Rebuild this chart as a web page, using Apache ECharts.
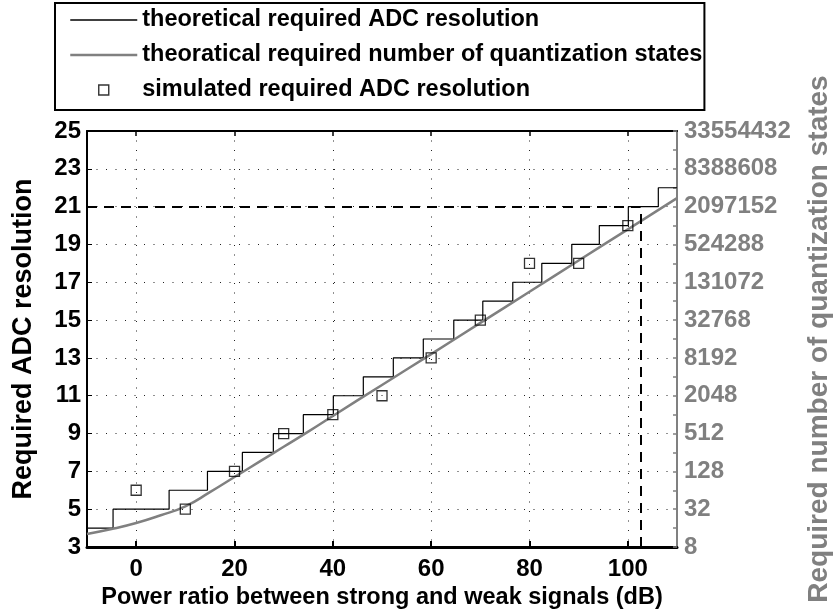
<!DOCTYPE html>
<html>
<head>
<meta charset="utf-8">
<script src="https://cdn.jsdelivr.net/npm/echarts@6/dist/echarts.min.js"></script>
<style>
html,body{margin:0;padding:0;background:#fff;}
#chart{width:836px;height:611px;}
</style>
</head>
<body>
<div id="chart"></div>
<script>
// ---- data ----
const xMin = -10, xMax = 110;
const xTickValues = [0, 20, 40, 60, 80, 100];
const yMin = 3, yMax = 25;
const yTickValues = [3, 5, 7, 9, 11, 13, 15, 17, 19, 21, 23, 25];
const rightMinorTicks = [3, 4, 5, 6, 7, 8, 9, 10, 11, 12, 13, 14, 15, 16, 17, 18, 19, 20, 21, 22, 23, 24, 25];
const rightTickLabels = ['8', '32', '128', '512', '2048', '8192', '32768', '131072', '524288', '2097152', '8388608', '33554432'];

// theoretical required ADC resolution (step function)
const stepX = [-10, -4.7, 6.7, 14.5, 21.6, 27.9, 34.0, 40.1, 46.2, 52.3, 58.4, 64.6, 70.5, 76.6, 82.5, 88.6, 94.2, 100.1, 106.2, 110];
const stepBits = [4, 5, 6, 7, 8, 9, 10, 11, 12, 13, 14, 15, 16, 17, 18, 19, 20, 21, 22, 22];

// theoretical required number of quantization states (log2 scale)
const curveX = [-10, -5, 0, 5, 10, 15, 20, 25, 30, 35, 40, 50, 60, 70, 80, 90, 100, 110];
const curveBits = [3.69, 3.95, 4.27, 4.68, 5.15, 5.9, 6.7, 7.5, 8.3, 9.1, 9.93, 11.57, 13.2, 14.85, 16.5, 18.15, 19.8, 21.45];

// simulated required ADC resolution
const simX = [0, 10, 20, 30, 40, 50, 60, 70, 80, 90, 100];
const simBits = [6, 5, 7, 9, 10, 11, 13, 15, 18, 18, 20];

// reference markers
const thresholdDb = 102.6;
const thresholdBits = 21;

const names = [
  'theoretical required ADC resolution',
  'theoratical required number of quantization states',
  'simulated required ADC resolution'
];

const FONT = 'Liberation Sans, Arial, Helvetica, sans-serif';
const GRAY = '#808080';

const chart = echarts.init(document.getElementById('chart'), null, {renderer: 'canvas'});

const zip = (xs, ys) => xs.map((x, i) => [x, ys[i]]);

const option = {
  backgroundColor: '#fff',
  animation: false,
  textStyle: {fontFamily: FONT},
  legend: {
    left: 55,
    top: 3,
    orient: 'vertical',
    backgroundColor: '#fff',
    borderColor: '#000',
    borderWidth: 2,
    borderRadius: 0,
    padding: [5, 2, 8, 14],
    itemWidth: 67,
    itemHeight: 10,
    itemGap: 11,
    textStyle: {fontFamily: FONT, fontSize: 23.5, fontWeight: 'bold', color: '#000', lineHeight: 24},
    data: [
      {name: names[0], itemStyle: {opacity: 0}, lineStyle: {color: '#000', width: 1.5}},
      {name: names[1], itemStyle: {opacity: 0}, lineStyle: {color: GRAY, width: 2.5}},
      {name: names[2], icon: 'path://M0,0 L10,0 L10,10 L0,10 Z',
       itemStyle: {color: 'rgba(0,0,0,0)', borderColor: '#000', borderWidth: 1.4}}
    ]
  },
  grid: {left: 87, right: 159, top: 131, bottom: 64, containLabel: false, outerBoundsMode: 'none'},
  xAxis: [
    {
      type: 'value', min: xMin, max: xMax, position: 'bottom',
      name: 'Power ratio between strong and weak signals (dB)',
      nameLocation: 'middle', nameGap: 38,
      nameTextStyle: {fontFamily: FONT, fontSize: 23.5, fontWeight: 'bold', color: '#000'},
      axisLine: {show: true, onZero: false, lineStyle: {color: '#000', width: 3}},
      axisTick: {show: true, inside: true, length: 6, customValues: xTickValues, lineStyle: {color: '#000', width: 2}},
      axisLabel: {customValues: xTickValues, margin: 10, fontFamily: FONT, fontSize: 24, fontWeight: 'bold', color: '#000'},
      splitLine: {show: true, lineStyle: {color: '#222', width: 1, type: [1, 8.5]}}
    },
    {
      type: 'value', min: xMin, max: xMax, position: 'top',
      axisLine: {show: true, onZero: false, lineStyle: {color: '#000', width: 2}},
      axisTick: {show: true, inside: true, length: 5, customValues: xTickValues, lineStyle: {color: '#000', width: 1.5}},
      axisLabel: {show: false},
      splitLine: {show: false}
    }
  ],
  yAxis: [
    {
      type: 'value', min: yMin, max: yMax, position: 'left',
      name: 'Required ADC resolution', nameLocation: 'middle', nameGap: 50, nameRotate: 90,
      nameTextStyle: {fontFamily: FONT, fontSize: 27, fontWeight: 'bold', color: '#000'},
      axisLine: {show: true, onZero: false, lineStyle: {color: '#000', width: 2}},
      axisTick: {show: true, inside: true, length: 5, customValues: yTickValues, lineStyle: {color: '#000', width: 1}},
      axisLabel: {customValues: yTickValues, margin: 6, fontFamily: FONT, fontSize: 24, fontWeight: 'bold', color: '#000'},
      splitLine: {show: true, lineStyle: {color: '#222', width: 1, type: [1, 8.5]}}
    },
    {
      type: 'value', min: yMin, max: yMax, position: 'right',
      name: 'Required number of quantization states', nameLocation: 'middle', nameGap: 128, nameRotate: 90,
      nameTextStyle: {fontFamily: FONT, fontSize: 28, fontWeight: 'bold', color: GRAY},
      axisLine: {show: true, onZero: false, lineStyle: {color: GRAY, width: 2}},
      axisTick: {show: true, inside: true, length: 4, customValues: rightMinorTicks, lineStyle: {color: GRAY, width: 1.5}},
      axisLabel: {
        customValues: yTickValues, margin: 7, fontFamily: FONT, fontSize: 24, fontWeight: 'bold', color: GRAY,
        formatter: v => rightTickLabels[yTickValues.indexOf(v)]
      },
      splitLine: {show: false}
    }
  ],
  series: [
    {
      name: names[0], type: 'line', step: 'end', xAxisIndex: 0, yAxisIndex: 0,
      data: zip(stepX, stepBits), symbol: 'none', showSymbol: false,
      lineStyle: {color: '#000', width: 1.2}, itemStyle: {color: '#000'}, z: 3,
      markLine: {
        silent: true, symbol: 'none', label: {show: false},
        lineStyle: {color: '#000', width: 2, type: [10, 7]},
        data: [
          [{coord: [xMin, thresholdBits]}, {coord: [thresholdDb, thresholdBits]}],
          [{coord: [thresholdDb, yMin]}, {coord: [thresholdDb, thresholdBits]}]
        ]
      }
    },
    {
      name: names[1], type: 'line', smooth: true, xAxisIndex: 0, yAxisIndex: 1,
      data: zip(curveX, curveBits), symbol: 'none', showSymbol: false,
      lineStyle: {color: GRAY, width: 2.5}, itemStyle: {color: GRAY}, z: 4
    },
    {
      name: names[2], type: 'scatter', xAxisIndex: 0, yAxisIndex: 0,
      data: zip(simX, simBits), symbol: 'rect', symbolSize: 10,
      itemStyle: {color: 'rgba(0,0,0,0)', borderColor: '#000', borderWidth: 1.3}, z: 5
    }
  ]
};
chart.setOption(option);
</script>
</body>
</html>
